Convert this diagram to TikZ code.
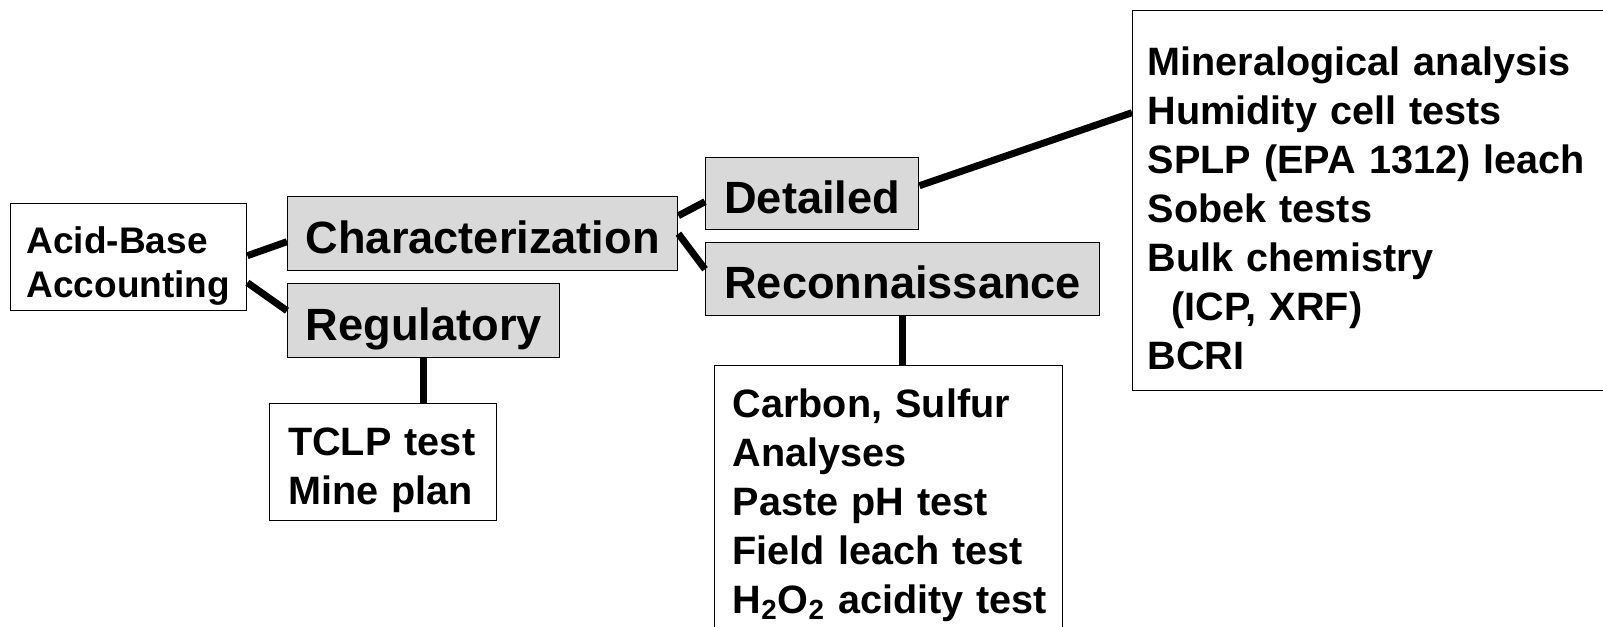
\documentclass[tikz,border=0pt]{standalone}
\usepackage{fontspec}
\setmainfont{Liberation Sans}
\definecolor{boxgray}{RGB}{217,217,217}

\begin{document}
\begin{tikzpicture}[x=0.5pt,y=-0.5pt,
     stage/.style={draw,line width=0.7pt,fill=boxgray,anchor=north west,inner sep=0pt,
       text height=19.5pt,text depth=0pt,font=\fontsize{22.6}{27}\selectfont\bfseries},
     tests/.style={draw,line width=0.7pt,fill=white,anchor=north west,inner ysep=0pt,
       align=left,execute at begin node={\rule{0pt}{1.1em}},
       font=\fontsize{19.8}{24.5}\selectfont\bfseries},
     link/.style={line width=3.5pt}]
     \useasboundingbox (0,0) rectangle (1603,627);
     \clip (0,0) rectangle (1603,627);

     \coordinate (AB) at (10,203);
     \coordinate (CP) at (287,196);
     \coordinate (RP) at (287,283);
     \coordinate (DP) at (705,157);
     \coordinate (NP) at (705,242);
     \coordinate (TP) at (269,403);
     \coordinate (SP) at (714,365);
     \coordinate (MP) at (1132,10);

     \node[tests,inner xsep=8pt,text width=102pt,minimum height=53.5pt,
       execute at begin node={\rule{0pt}{1.2em}},
       font=\fontsize{18.5}{22}\selectfont\bfseries] (ABA) at (AB) {Acid-Base\\Accounting};
     \node[stage,minimum width=195pt,minimum height=37pt] (CH) at (CP) {Characterization};
     \node[stage,minimum width=136pt,minimum height=37pt] (RG) at (RP) {Regulatory};
     \node[stage,minimum width=106.5pt,minimum height=36pt] (DT) at (DP) {Detailed};
     \node[stage,minimum width=197pt,minimum height=36.5pt] (RC) at (NP) {Reconnaissance};
     \node[tests,inner xsep=9.25pt,text width=95pt,minimum height=58.5pt] (TC) at (TP)
       {TCLP test\\Mine plan};
     \node[tests,inner xsep=9pt,text width=156pt,minimum height=132pt] (CS) at (SP)
       {Carbon, Sulfur\\Analyses\\Paste pH test\\Field leach test\\\mbox{H\textsubscript{2}O\textsubscript{2} acidity test}};
     \node[tests,inner xsep=7.5pt,text width=229pt,minimum height=190pt] (MA) at (MP)
       {Mineralogical analysis\\Humidity cell tests\\SPLP (EPA 1312) leach\\Sobek tests\\Bulk chemistry\\\hspace*{12pt}(ICP, XRF)\\BCRI};

     \draw[link] ([yshift=0.75pt]ABA.east) -- ([yshift=-4pt]CH.west);
     \draw[link] ([yshift=-12.75pt]ABA.east) -- ([yshift=5pt]RG.west);
     \draw[link] ([yshift=9pt]CH.east) -- ([yshift=-4pt]DT.west);
     \draw[link] (CH.east) -- ([yshift=5pt]RC.west);
     \draw[link] ([yshift=4pt]DT.east) -- ([yshift=44pt]MA.west);
     \draw[link] (RG.south) -- (RG.south |- TC.north);
     \draw[link] (RC.south) -- (RC.south |- CS.north);

  \end{tikzpicture}
\end{document}
